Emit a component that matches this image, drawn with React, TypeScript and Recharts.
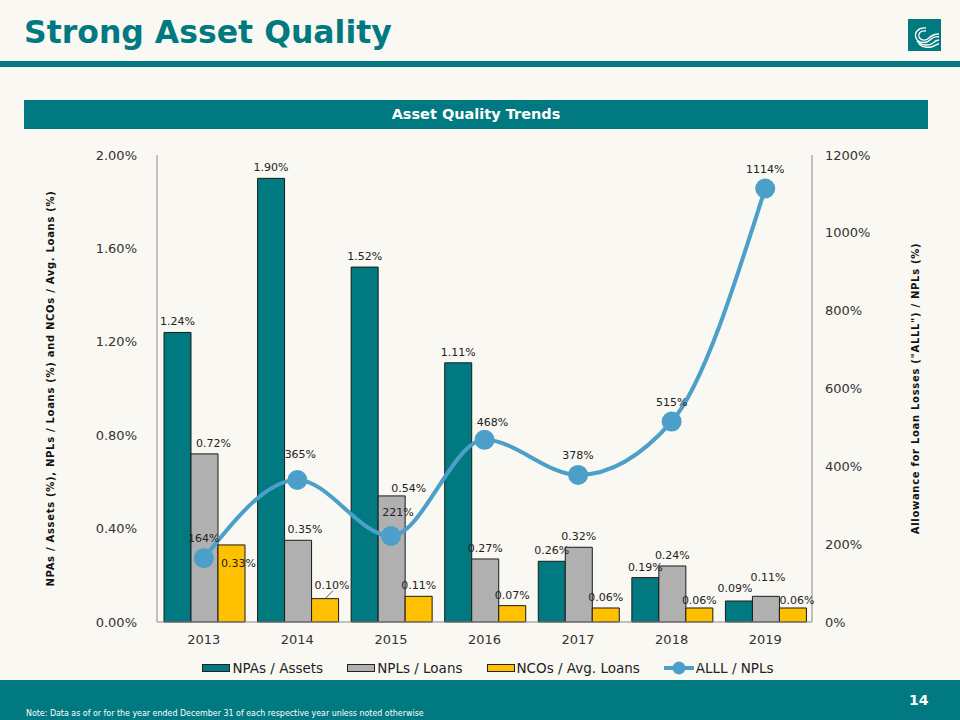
import React from "react";
import {
  ComposedChart,
  Bar,
  Line,
  XAxis,
  YAxis,
  Legend,
  LabelList,
} from "recharts";

const years = ["2013", "2014", "2015", "2016", "2017", "2018", "2019"];
const npaToAssets = [1.24, 1.9, 1.52, 1.11, 0.26, 0.19, 0.09];
const nplToLoans = [0.72, 0.35, 0.54, 0.27, 0.32, 0.24, 0.11];
const ncoToAvgLoans = [0.33, 0.1, 0.11, 0.07, 0.06, 0.06, 0.06];
const alllToNpls = [164, 365, 221, 468, 378, 515, 1114];
const leftTicks = [0, 0.4, 0.8, 1.2, 1.6, 2.0];
const rightTicks = [0, 200, 400, 600, 800, 1000, 1200];
const seriesNames = ["NPAs / Assets", "NPLs / Loans", "NCOs / Avg. Loans", "ALLL / NPLs"];

const data = years.map((year, i) => ({
  year,
  npa: npaToAssets[i],
  npl: nplToLoans[i],
  nco: ncoToAvgLoans[i],
  alll: alllToNpls[i],
}));

// label nudges (dx, dy, leader line) so the labels sit like the original slide
const npaNudge = [[0, 0], [0, 0], [0, 0], [0, 0], [0, 0], [0, 0], [-4, -2]];
const nplNudge = [[9, 0], [7, 0], [17, 3], [0, 0], [0, 0], [0, 0], [2, -8]];
const ncoNudge = [[7, 29], [7, -3, 1], [0, 0], [0, 0], [0, 0], [0, 3], [4, 3]];
const alllNudge = [[0, 0], [3, -6], [7, -4], [8, 2], [0, 0], [0, 0], [0, 1]];

const TEAL = "#007A80";
const GRAY = "#B0B0B0";
const GOLD = "#FFC000";
const BLUE = "#4B9FC8";
const BG = "#FAF8F2";
const FONT = "'DejaVu Sans', Verdana, sans-serif";

const pct2 = (v: number) => `${v.toFixed(2)}%`;

function barLabel(nudge: number[][]) {
  return (props: any) => {
    const { x, y, width, value, index } = props;
    const [dx, dy, leader] = nudge[index] || [0, 0];
    const cx = Number(x) + Number(width) / 2;
    const top = Number(y);
    return (
      <g>
        {leader ? (
          <line x1={cx} y1={top} x2={cx + 8} y2={top - 8} stroke="#333" strokeWidth={0.8} />
        ) : null}
        <text
          x={cx + dx}
          y={top - 7 + dy}
          textAnchor="middle"
          fontSize={11}
          fontFamily={FONT}
          fill="#222"
        >
          {pct2(Number(value))}
        </text>
      </g>
    );
  };
}

function lineLabel(props: any) {
  const { x, y, value, index } = props;
  const [dx, dy] = alllNudge[index] || [0, 0];
  return (
    <text
      x={Number(x) + dx}
      y={Number(y) - 16 + dy}
      textAnchor="middle"
      fontSize={11}
      fontFamily={FONT}
      fill="#222"
    >
      {`${value}%`}
    </text>
  );
}

function AxisTitle({ viewBox, text, dx }: any) {
  const x = viewBox.x + dx;
  const y = viewBox.y + viewBox.height / 2;
  return (
    <text
      x={x}
      y={y}
      transform={`rotate(-90, ${x}, ${y})`}
      textAnchor="middle"
      dominantBaseline="central"
      fontSize={10}
      fontWeight="bold"
      letterSpacing={0.7}
      fontFamily={FONT}
      fill="#111"
    >
      {text}
    </text>
  );
}

function ChartLegend({ payload }: any) {
  const items = [...(payload || [])].sort(
    (a: any, b: any) => seriesNames.indexOf(a.value) - seriesNames.indexOf(b.value)
  );
  return (
    <div
      style={{
        display: "flex",
        justifyContent: "center",
        gap: 24,
        fontFamily: FONT,
        fontSize: 13.5,
        color: "#222",
        lineHeight: "16px",
      }}
    >
      {items.map((entry: any) => (
        <div key={entry.value} style={{ display: "flex", alignItems: "center" }}>
          {entry.type === "line" ? (
            <svg width={30} height={14}>
              <line x1={0} y1={7} x2={30} y2={7} stroke={entry.color} strokeWidth={4} />
              <circle cx={15} cy={7} r={6.5} fill={entry.color} />
            </svg>
          ) : (
            <span
              style={{
                display: "inline-block",
                width: 28,
                height: 8,
                background: entry.color,
                border: "1px solid #222",
                boxSizing: "border-box",
              }}
            />
          )}
          <span style={{ marginLeft: 2 }}>{entry.value}</span>
        </div>
      ))}
    </div>
  );
}

function Logo() {
  return (
    <svg
      width={33}
      height={32}
      style={{ position: "absolute", left: 908, top: 19 }}
    >
      <rect width={33} height={32} fill={TEAL} />
      <g fill="none" stroke="#fff" strokeWidth={1.4}>
        <path d="M18 9 C 10 8, 6 14, 8 19 C 10 24, 18 25, 22 21 C 25 18, 28 17, 31 18" />
        <path d="M18 12 C 12 11, 10 15, 11 18 C 13 22, 18 22, 21 19 C 24 16, 28 15, 31 15" />
        <path d="M9 22 C 13 27, 21 27, 25 24 C 27 22, 29 21, 31 21" />
        <path d="M11 25 C 15 29, 22 29, 26 27 C 28 26, 29 25, 31 25" />
      </g>
    </svg>
  );
}

export default function App() {
  return (
    <div
      style={{
        position: "absolute",
        left: 0,
        top: 0,
        width: 960,
        height: 720,
        background: BG,
        overflow: "hidden",
        fontFamily: FONT,
      }}
    >
      <div
        style={{
          position: "absolute",
          left: 24,
          top: 12,
          fontSize: 31.5,
          fontWeight: "bold",
          color: TEAL,
          lineHeight: "40px",
          whiteSpace: "nowrap",
        }}
      >
        Strong Asset Quality
      </div>
      <Logo />
      <div style={{ position: "absolute", left: 0, top: 61, width: 960, height: 6, background: TEAL }} />
      <div
        style={{
          position: "absolute",
          left: 24,
          top: 100,
          width: 904,
          height: 29,
          background: TEAL,
          color: "#fff",
          fontSize: 14.5,
          fontWeight: "bold",
          lineHeight: "29px",
          textAlign: "center",
        }}
      >
        Asset Quality Trends
      </div>

      <div style={{ position: "absolute", left: 0, top: 0 }}>
        <ComposedChart
          width={960}
          height={720}
          data={data}
          margin={{ top: 155, right: 38, bottom: 68, left: 40 }}
          barCategoryGap={7}
          barGap={0}
        >
          <XAxis
            dataKey="year"
            axisLine={{ stroke: "#888" }}
            tickLine={false}
            tickMargin={7}
            height={30}
            tick={{ fontSize: 13, fill: "#333", fontFamily: FONT }}
          />
          <YAxis
            yAxisId="left"
            domain={[0, 2]}
            ticks={leftTicks}
            tickFormatter={(v: number) => pct2(v)}
            width={117}
            axisLine={{ stroke: "#888" }}
            tickLine={false}
            tickMargin={14}
            tick={{ fontSize: 13, fill: "#333", fontFamily: FONT }}
            label={
              <AxisTitle
                dx={10}
                text="NPAs / Assets (%), NPLs / Loans (%) and NCOs / Avg. Loans (%)"
              />
            }
          />
          <YAxis
            yAxisId="right"
            orientation="right"
            domain={[0, 1200]}
            ticks={rightTicks}
            tickFormatter={(v: number) => `${v}%`}
            width={110}
            axisLine={{ stroke: "#888" }}
            tickLine={false}
            tickMargin={7}
            tick={{ fontSize: 13, fill: "#333", fontFamily: FONT, textAnchor: "start" }}
            label={
              <AxisTitle
                dx={103}
                text={'Allowance for Loan Losses ("ALLL") / NPLs (%)'}
              />
            }
          />
          <Legend
            layout="horizontal"
            verticalAlign="middle"
            align="center"
            wrapperStyle={{ top: 660, left: 8, width: 960 }}
            content={<ChartLegend />}
          />
          <Bar
            yAxisId="left"
            dataKey="npa"
            name={seriesNames[0]}
            fill={TEAL}
            stroke="#1a1a1a"
            strokeWidth={1}
            isAnimationActive={false}
          >
            <LabelList dataKey="npa" content={barLabel(npaNudge)} />
          </Bar>
          <Bar
            yAxisId="left"
            dataKey="npl"
            name={seriesNames[1]}
            fill={GRAY}
            stroke="#1a1a1a"
            strokeWidth={1}
            isAnimationActive={false}
          >
            <LabelList dataKey="npl" content={barLabel(nplNudge)} />
          </Bar>
          <Bar
            yAxisId="left"
            dataKey="nco"
            name={seriesNames[2]}
            fill={GOLD}
            stroke="#1a1a1a"
            strokeWidth={1}
            isAnimationActive={false}
          >
            <LabelList dataKey="nco" content={barLabel(ncoNudge)} />
          </Bar>
          <Line
            yAxisId="right"
            type="monotone"
            dataKey="alll"
            name={seriesNames[3]}
            stroke={BLUE}
            strokeWidth={4}
            dot={{ r: 10, fill: BLUE, stroke: "none" }}
            activeDot={false}
            isAnimationActive={false}
          >
            <LabelList dataKey="alll" content={lineLabel} />
          </Line>
        </ComposedChart>
      </div>

      <div style={{ position: "absolute", left: 0, top: 680, width: 960, height: 40, background: TEAL }} />
      <div
        style={{
          position: "absolute",
          left: 909,
          top: 691,
          color: "#fff",
          fontSize: 14,
          fontWeight: "bold",
          lineHeight: "18px",
        }}
      >
        14
      </div>
      <div
        style={{
          position: "absolute",
          left: 26,
          top: 708,
          color: "#fff",
          fontSize: 8.8,
          lineHeight: "10px",
          whiteSpace: "nowrap",
          fontFamily: "'DejaVu Sans Condensed', 'DejaVu Sans', sans-serif",
        }}
      >
        Note: Data as of or for the year ended December 31 of each respective year unless noted otherwise
      </div>
    </div>
  );
}
